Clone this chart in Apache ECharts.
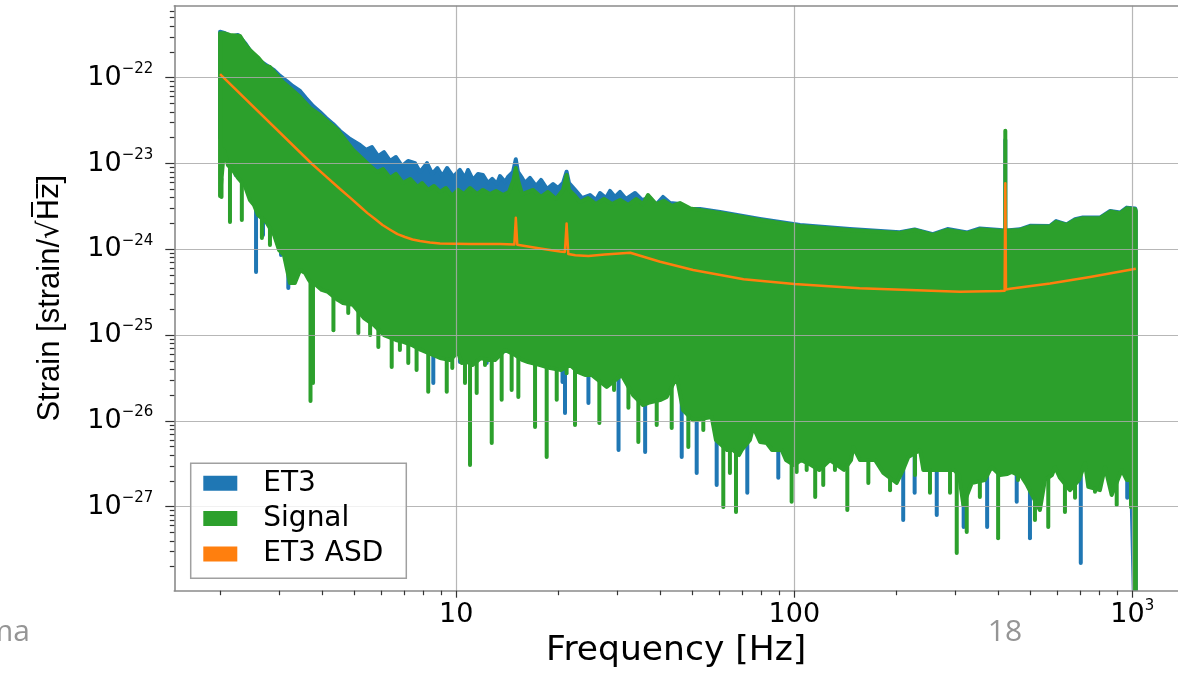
<!DOCTYPE html>
<html>
<head>
<meta charset="utf-8">
<title>ET3 strain spectrum</title>
<script src="https://cdn.jsdelivr.net/npm/echarts@6.0.0/dist/echarts.min.js"></script>
<style>
  html, body { margin: 0; padding: 0; background: #ffffff; }
  #chart { width: 1178px; height: 677px; }
</style>
</head>
<body>
<div id="chart"></div>
<script>
// ---- data: [frequency Hz, strain 1/sqrt(Hz)] ----
const SERIES_NAMES = ['ET3', 'Signal', 'ET3 ASD'];
const X_TICKS = [10, 100, 1000];
const Y_TICKS = [1e-27, 1e-26, 1e-25, 1e-24, 1e-23, 1e-22];

// ET3 noise realisation: upper edge and lower edge of the dense trace
const ET3_TOP = [
  [2.0,3.44e-22],[2.07,3.3e-22],[2.16,3.03e-22],[2.26,3.15e-22],[2.37,2.54e-22],[2.45,2.1e-22],[2.6,1.61e-22],
  [2.74,1.4e-22],[2.89,1.22e-22],[3.01,1.05e-22],[3.15,9.15e-23],[3.28,8.0e-23],[3.45,7.0e-23],[3.59,5.8e-23],
  [3.77,4.68e-23],[3.95,3.99e-23],[4.12,3.39e-23],[4.32,2.89e-23],[4.53,2.39e-23],[4.85,1.93e-23],
  [5.19,1.64e-23],[5.41,1.44e-23],[5.63,1.55e-23],[5.87,1.22e-23],[6.11,1.36e-23],[6.37,1.07e-23],[6.63,1.19e-23],
  [6.91,9.35e-24],[7.2,1.07e-23],[7.55,1.01e-23],[7.81,7.97e-24],[8.19,1.01e-23],[8.49,7.56e-24],[8.79,8.86e-24],
  [9.09,7.15e-24],[9.39,8.86e-24],[9.8,6.96e-24],[10.25,8.4e-24],[10.61,6.78e-24],[10.83,8.4e-24],[11.2,6.43e-24],
  [11.59,7.56e-24],[11.98,7.36e-24],[12.41,5.92e-24],[12.77,6.6e-24],[13.19,5.77e-24],[13.47,7.15e-24],[13.94,6.08e-24],
  [14.22,6.96e-24],[14.72,7.97e-24],[15.0,1.12e-23],[15.22,7.97e-24],[15.65,6.78e-24],[15.97,5.92e-24],[16.52,6.78e-24],
  [17.21,5.47e-24],[17.81,6.43e-24],[18.54,5.05e-24],[19.33,5.77e-24],[20.0,5.18e-24],[20.69,5.92e-24],[21.2,8.02e-24],
  [21.55,5.92e-24],[22.45,4.92e-24],[23.55,3.96e-24],[24.87,4.29e-24],[25.9,3.76e-24],[26.62,4.53e-24],[27.73,3.96e-24],
  [28.5,4.79e-24],[29.49,4.07e-24],[30.51,4.66e-24],[31.78,3.86e-24],[33.79,4.53e-24],[35.43,3.76e-24],[37.42,3.96e-24],
  [38.98,3.29e-24],[40.88,4.07e-24],[42.88,3.46e-24],[45.9,3.37e-24],[49.14,2.95e-24],[52.6,2.95e-24],[60.3,2.72e-24],
  [79.15,2.26e-24],[104,1.92e-24],[146,1.72e-24],[205,1.58e-24],[227,1.7e-24],[257,1.5e-24],[284,1.72e-24],
  [325,1.57e-24],[354,1.75e-24],[406,1.68e-24],[417,1.66e-24],[421,1.88e-23],[425,1.66e-24],[465,1.71e-24],
  [498,1.88e-24],[570,1.87e-24],[595,2.13e-24],[639,1.95e-24],[677,2.24e-24],[714,2.35e-24],[802,2.34e-24],
  [860,2.8e-24],[920,2.68e-24],[963,3.06e-24],[1020,2.98e-24],[1024,2.8e-24]
];
const ET3_LOW = [
  [2.0,1.98e-23],[2.03,1.88e-23],[2.14,1.44e-23],[2.225,7.36e-24],[2.276,1.1e-23],[2.42,7.36e-24],[2.503,6.43e-24],
  [2.556,5.44e-25],[2.61,4.92e-24],[2.68,1.47e-24],[2.754,3.76e-24],[2.843,1.6e-24],[2.91,2.51e-24],[3.03,8.6e-25],
  [3.11,1.29e-24],[3.184,3.54e-25],[3.265,7.1e-25],[3.69,6.05e-25],[3.898,5.02e-25],[4.015,3.54e-25],[4.11,4.39e-25],
  [4.47,3.54e-25],[4.63,2.78e-25],[4.75,2.93e-25],[5.19,2.25e-25],[5.95,1.58e-25],[6.81,1.21e-25],[7.81,1.0e-25],
  [8.24,8.77e-26],[8.55,2.77e-26],[8.77,8.3e-26],[9.98,7.66e-26],[10.25,4.86e-26],[10.54,7.07e-26],[11.75,6.7e-26],
  [12.3,4.73e-26],[12.58,6.35e-26],[15.44,6.7e-26],[18.94,5.87e-26],[20.27,5.13e-26],[20.62,2.84e-26],[20.8,5.0e-26],
  [20.97,1.24e-26],[21.4,4.86e-26],[24.04,4.48e-26],[24.6,1.62e-26],[25.2,4.24e-26],[28.9,3.92e-26],[30.2,4.58e-27],
  [30.9,3.7e-26],[35.0,3.43e-26],[36.2,4.34e-27],[37.2,3.16e-26],[44.6,3.43e-26],[46.44,3.8e-27],[47.5,2.0e-26],
  [49.7,1.53e-26],[51.43,2.47e-27],[52.6,1.34e-26],[57.0,1.34e-26],[58.93,1.79e-27],[60.3,8.96e-27],[70.0,7.83e-27],
  [72.6,1.45e-27],[74.5,8.96e-27],[86.5,7.83e-27],[89.67,2.17e-27],[91.9,6.85e-27],[104,5.98e-27],[146,5.98e-27],
  [202.7,5.23e-27],[210,7.0e-28],[215,5.23e-27],[224,5.23e-27],[227,1.45e-27],[233,5.23e-27],[255.5,5.23e-27],
  [263.9,8.0e-28],[271,5.23e-27],[306,5.23e-27],[317,5.8e-28],[323,5.23e-27],[364,5.23e-27],[372,5.8e-28],
  [379,5.23e-27],[442,4.58e-27],[455,1.14e-27],[466,4.58e-27],[488,4.58e-27],[498,4.3e-28],[509,4.58e-27],
  [681,4.58e-27],[704,2.2e-28],[719,4.58e-27],[938,4.58e-27],[966,1.27e-27],[988,4.58e-27],[1024,1e-29]
];

// Signal trace: upper edge and lower edge
const SIGNAL_TOP = [
  [2.0,3.3e-22],[2.05,3.3e-22],[2.14,3.15e-22],[2.29,3.07e-22],[2.37,2.47e-22],[2.45,2.1e-22],[2.6,1.7e-22],
  [2.72,1.37e-22],[2.81,1.33e-22],[3.07,8.9e-23],[3.22,7.6e-23],[3.45,5.95e-23],[3.69,4.44e-23],[3.95,3.68e-23],
  [4.45,2.47e-23],[4.95,1.44e-23],[5.56,9.35e-24],[5.83,7.97e-24],[6.07,8.63e-24],[6.37,6.78e-24],[6.63,7.56e-24],
  [6.95,5.92e-24],[7.3,6.6e-24],[7.68,5.33e-24],[7.92,5.92e-24],[8.25,4.92e-24],[8.59,5.47e-24],[8.95,4.66e-24],
  [9.32,5.18e-24],[9.71,4.18e-24],[10.12,4.92e-24],[10.54,4.4e-24],[10.98,5.18e-24],[11.51,4.4e-24],[11.98,4.92e-24],
  [12.58,4.4e-24],[13.11,4.79e-24],[13.75,4.29e-24],[14.32,4.66e-24],[14.76,6.4e-24],[15.0,8.86e-24],[15.22,6.4e-24],
  [15.65,4.4e-24],[16.87,4.92e-24],[17.81,4.07e-24],[18.67,4.66e-24],[19.72,3.86e-24],[20.69,4.92e-24],[21.2,7.36e-24],
  [21.55,4.92e-24],[22.45,4.18e-24],[23.23,3.56e-24],[24.53,3.96e-24],[25.9,3.37e-24],[27.35,3.86e-24],[28.89,3.37e-24],
  [30.51,3.76e-24],[32.3,3.29e-24],[34.02,3.86e-24],[35.67,3.37e-24],[36.92,4.29e-24],[39.0,3.37e-24],[41.16,3.66e-24],
  [43.47,3.2e-24],[45.9,3.46e-24],[49.14,3.0e-24],[52.6,2.88e-24],[60.3,2.65e-24],[79.15,2.2e-24],[104,1.87e-24],
  [146,1.68e-24],[205,1.55e-24],[227,1.68e-24],[257,1.47e-24],[284,1.68e-24],[325,1.54e-24],[354,1.71e-24],
  [406,1.65e-24],[417,1.64e-24],[421,2.4e-23],[425,1.64e-24],[465,1.68e-24],[498,1.84e-24],[570,1.84e-24],
  [595,2.09e-24],[639,1.92e-24],[677,2.2e-24],[714,2.3e-24],[802,2.3e-24],[860,2.75e-24],[920,2.63e-24],
  [963,3.0e-24],[1020,2.93e-24],[1024,2.77e-24]
];
const SIGNAL_LOW = [
  [2.0,4.18e-24],[2.02,4.07e-24],[2.055,1.44e-23],[2.11,9.6e-24],[2.14,2.08e-24],[2.18,8.4e-24],[2.26,6.78e-24],
  [2.32,2.2e-24],[2.37,5.47e-24],[2.45,3.76e-24],[2.52,3.29e-24],[2.59,2.51e-24],[2.66,1.35e-24],[2.74,2.08e-24],
  [2.81,1.12e-24],[2.89,1.47e-24],[2.99,9.8e-25],[3.09,8.6e-25],[3.22,4.05e-25],[3.33,4.05e-25],[3.45,5.74e-25],
  [3.57,5.3e-25],[3.665,4.39e-25],[3.704,1.7e-26],[3.735,4.0e-25],[3.767,2.77e-26],[3.846,3.84e-25],[4.0,3.36e-25],
  [4.17,3.19e-25],[4.33,1.14e-25],[4.47,2.56e-25],[4.62,2.37e-25],[4.79,1.81e-25],[4.95,2.25e-25],[5.13,1.06e-25],
  [5.33,1.58e-25],[5.56,1.0e-25],[5.71,1.31e-25],[5.88,7.27e-26],[6.11,1.0e-25],[6.44,4.25e-26],[6.63,8.77e-26],
  [6.81,6.7e-26],[7.0,8.3e-26],[7.21,4.73e-26],[7.39,7.66e-26],[7.63,3.92e-26],[7.86,6.7e-26],[8.26,2.18e-26],
  [8.53,5.87e-26],[8.95,5.41e-26],[9.37,2.18e-26],[9.58,5.13e-26],[9.73,4.14e-26],[10.12,6.35e-26],[10.37,4.73e-26],
  [10.61,2.77e-26],[10.79,4.86e-26],[10.98,3.06e-27],[11.17,4.48e-26],[11.49,2.12e-26],[11.83,5.41e-26],[12.16,4.48e-26],
  [12.41,5.13e-26],[12.73,5.53e-27],[13.02,5.13e-26],[13.62,1.76e-26],[13.94,6.7e-26],[14.58,2.29e-26],[14.92,5.87e-26],
  [15.26,1.9e-26],[15.65,5.13e-26],[16.3,4.86e-26],[17.1,8.5e-27],[17.69,4.48e-26],[18.51,3.8e-27],[18.94,4.14e-26],
  [19.82,1.76e-26],[20.41,3.92e-26],[21.2,3.6e-26],[21.7,4.48e-26],[22.45,8.96e-27],[22.96,3.7e-26],[24.04,3.43e-26],
  [25.16,3.43e-26],[26.5,9.45e-27],[27.86,2.49e-26],[29.29,2.29e-26],[30.86,3.43e-26],[32.3,1.42e-26],[33.34,2.0e-26],
  [34.56,5.67e-27],[35.67,1.53e-26],[36.98,1.62e-26],[39.17,8.96e-27],[40.33,1.76e-26],[41.93,1.9e-26],[43.38,8.26e-27],
  [44.88,3.25e-26],[46.85,1.34e-26],[48.58,4.96e-27],[50.15,1.02e-26],[53.8,7.83e-27],[56.96,1.11e-26],[58.65,5.98e-27],
  [61.65,9.9e-28],[63.2,4.58e-27],[64.5,2.47e-27],[65.86,4.58e-27],[67.22,8.67e-28],[68.6,4.0e-27],[69.88,4.58e-27],
  [73.9,5.98e-27],[75.63,8.5e-27],[79.2,5.67e-27],[82.87,5.53e-27],[85.9,4.58e-27],[91.77,4.58e-27],[94.5,3.5e-27],
  [98.2,1.14e-27],[99.8,3.06e-27],[101.6,2.54e-27],[104.7,3.5e-27],[108.8,2.68e-27],[112.1,3.06e-27],[115.3,1.3e-27],
  [118.6,2.68e-27],[121.8,1.79e-27],[127.5,3.5e-27],[131.9,2.68e-27],[136.5,2.9e-27],[140.3,2.68e-27],[143.5,9.15e-28],
  [147.2,3.5e-27],[149.5,4.96e-27],[156.4,3.5e-27],[165.6,1.89e-27],[173.3,3.5e-27],[183.4,2.47e-27],[192,1.56e-27],
  [200.9,1.89e-27],[209.7,2.68e-27],[217.4,3.8e-27],[227.6,2.34e-27],[235.5,4.58e-27],[240.8,2.68e-27],[252,1.45e-27],
  [260.8,2.68e-27],[276,2.68e-27],[288.9,1.45e-27],[296.9,2.68e-27],[302.4,2.89e-28],[307.2,2.34e-27],[316.3,1.05e-27],
  [323.7,5.07e-28],[334.9,1.89e-27],[354,1.3e-27],[366.2,2.05e-27],[383.2,2.9e-27],[400.9,4.3e-28],[406,2.34e-27],
  [427,2.4e-27],[439.8,2.54e-27],[459,2.05e-27],[470.7,2.24e-27],[488,1.79e-27],[515.2,7.0e-28],[533,9.15e-28],
  [551.5,2.05e-27],[564.1,5.8e-28],[578.6,2.34e-27],[590.5,2.9e-27],[610.9,2.17e-27],[632,8.67e-28],[654,1.56e-27],
  [677,1.27e-27],[695.6,2.05e-27],[724.7,3.23e-27],[741,1.7e-27],[775.5,1.49e-27],[802,1.56e-27],[830.4,2.9e-27],
  [869,1.37e-27],[899.2,1.05e-27],[930.3,2.68e-27],[962.5,2.05e-27],[991,9.9e-28],[1010,2.05e-27],[1024,1e-29]
];

// ET3 design amplitude spectral density
const ET3_ASD = [
  [2.0,1.1e-22],[3.73,1.0e-23],[4.09,7.23e-24],[4.53,5.04e-24],[4.85,4.0e-24],[5.19,3.15e-24],[5.46,2.64e-24],
  [5.75,2.25e-24],[6.05,1.92e-24],[6.37,1.69e-24],[6.7,1.5e-24],[7.05,1.39e-24],[7.42,1.3e-24],[7.81,1.25e-24],
  [8.36,1.2e-24],[8.95,1.17e-24],[11.0,1.15e-24],[13.5,1.15e-24],[14.85,1.14e-24],[15.0,2.33e-24],[15.15,1.13e-24],
  [17.7,1.02e-24],[20.27,9.4e-25],[20.95,9.3e-25],[21.2,2.0e-24],[21.45,8.8e-25],[22.5,8.5e-25],[24.6,8.35e-25],
  [27.5,8.7e-25],[32.7,9.13e-25],[40.1,7.17e-25],[50.2,5.74e-25],[70.8,4.47e-25],[100,3.94e-25],[156,3.51e-25],
  [309,3.19e-25],[406,3.26e-25],[419,3.28e-25],[421,5.9e-24],[423,3.4e-25],[435,3.47e-25],[571,4.0e-25],
  [750,4.75e-25],[1024,5.94e-25]
];

// ---- plotting ----
const lg = Math.log10;
const FONT = 'DejaVu Sans';
const BLUE = '#1f77b4', GREEN = '#2ca02c', ORANGE = '#ff7f0e';

// axis extents in decades
const X_MIN = 0.1657, X_MAX = 3.1352;
const Y_MIN = -27.979, Y_MAX = -21.161;

function minorDecades(lo, hi) {
  const out = [];
  for (let n = Math.floor(lo); n <= Math.ceil(hi); n++) {
    for (let k = 2; k <= 9; k++) {
      const e = n + lg(k);
      if (e > lo && e < hi) out.push(e);
    }
  }
  return out;
}

const xMajor = X_TICKS.map(v => Math.round(lg(v)));
const yMajor = Y_TICKS.map(v => Math.round(lg(v)));
const xMinor = minorDecades(X_MIN, X_MAX);
const yMinor = minorDecades(Y_MIN, Y_MAX);

const spine = { color: '#8a8a8a', width: 1.6 };
const tickStyle = { color: '#333333', width: 1.2 };
const gridStyle = { color: 'rgba(170,170,170,0.85)', width: 1.2 };
const richTicks = {
  b: { fontFamily: FONT, fontSize: 27, color: '#000', lineHeight: 32 },
  s: { fontFamily: FONT, fontSize: 15, color: '#000', lineHeight: 23, verticalAlign: 'top' }
};
const TRACE_WIDTH = 4;

// Dense spectrum drawn as a filled outline. Lower-edge points that sit below
// both neighbours hang from the edge as vertical strokes; narrow spectral
// lines on the upper edge (more than half a decade above both neighbours)
// rise from it the same way.
function bandSeries(name, top, low, color) {
  const outline = top.concat(low.slice().reverse());
  const isDip = low.map((p, i) => i > 0 && i < low.length - 1 &&
    p[1] < low[i - 1][1] && p[1] < low[i + 1][1]);
  const isLine = top.map((p, i) => i > 0 && i < top.length - 1 &&
    lg(p[1]) - Math.max(lg(top[i - 1][1]), lg(top[i + 1][1])) > 0.5);
  function strokes(px, flags, out) {
    px.forEach((pt, i) => {
      if (!flags[i]) return;
      const a = px[i - 1], b = px[i + 1];
      const yEdge = a[1] + (b[1] - a[1]) * (pt[0] - a[0]) / (b[0] - a[0]);
      out.push({
        type: 'line',
        shape: { x1: pt[0], y1: yEdge, x2: pt[0], y2: pt[1] },
        style: { stroke: color, lineWidth: TRACE_WIDTH, lineCap: 'round' }
      });
    });
  }
  return {
    type: 'custom',
    name: name,
    coordinateSystem: 'cartesian2d',
    clip: true,
    z: 2,
    itemStyle: { color: color },
    data: outline.map(p => [lg(p[0]), lg(p[1])]),
    renderItem: function (params, api) {
      if (params.dataIndex !== 0) return null;
      const toPx = p => api.coord([lg(p[0]), lg(p[1])]);
      const topPx = top.map(toPx);
      const lowPx = low.map(toPx);
      const upper = topPx.filter((_, i) => !isLine[i]);
      const lower = lowPx.filter((_, i) => !isDip[i]);
      const children = [{
        type: 'polygon',
        shape: { points: upper.concat(lower.slice().reverse()) },
        style: { fill: color, stroke: color, lineWidth: TRACE_WIDTH, lineJoin: 'round' }
      }];
      strokes(topPx, isLine, children);
      strokes(lowPx, isDip, children);
      return { type: 'group', children: children };
    }
  };
}

const chart = echarts.init(document.getElementById('chart'), null, { renderer: 'canvas' });

chart.setOption({
  animation: false,
  backgroundColor: '#ffffff',
  grid: { left: 174.3, right: 0, top: 5.7, bottom: 86.3 },
  xAxis: [
    {
      type: 'value', position: 'bottom', min: X_MIN, max: X_MAX, z: 5,
      axisLine: { show: true, onZero: false, lineStyle: spine },
      axisTick: { show: true, customValues: xMajor, length: 7, lineStyle: tickStyle },
      axisLabel: {
        customValues: xMajor, margin: 8, rich: richTicks,
        formatter: v => {
          const n = Math.round(v);
          return n >= 3 ? '{b|10}{s|' + n + '}' : '{b|' + Math.pow(10, n) + '}';
        }
      },
      splitLine: { show: true, lineStyle: gridStyle },
      name: 'Frequency [Hz]', nameLocation: 'middle', nameGap: 43,
      nameTextStyle: { fontFamily: FONT, fontSize: 34.5, color: '#000' }
    },
    {
      type: 'value', position: 'bottom', min: X_MIN, max: X_MAX, z: 5,
      axisLine: { show: false },
      axisTick: { show: true, customValues: xMinor, length: 4.5, lineStyle: tickStyle },
      axisLabel: { show: false },
      splitLine: { show: false }
    },
    {
      type: 'value', position: 'top', min: X_MIN, max: X_MAX, z: 5,
      axisLine: { show: true, onZero: false, lineStyle: spine },
      axisTick: { show: false }, axisLabel: { show: false }, splitLine: { show: false }
    }
  ],
  yAxis: [
    {
      type: 'value', position: 'left', min: Y_MIN, max: Y_MAX, z: 5,
      axisLine: { show: true, onZero: false, lineStyle: spine },
      axisTick: { show: true, customValues: yMajor, length: 9, lineStyle: tickStyle },
      axisLabel: {
        customValues: yMajor, margin: 21, rich: richTicks,
        formatter: v => '{b|10}{s|\u2212' + (-Math.round(v)) + '}'
      },
      splitLine: { show: true, lineStyle: gridStyle },
      name: '{t|Strain [strain/}{r|\u221AH\u0305z\u0305}{t|]}',
      nameLocation: 'middle', nameGap: 108, nameRotate: 90,
      nameTextStyle: {
        color: '#000',
        rich: {
          t: { fontFamily: 'Liberation Sans', fontSize: 31, color: '#000' },
          r: { fontFamily: FONT, fontSize: 29, color: '#000' }
        }
      }
    },
    {
      type: 'value', position: 'left', min: Y_MIN, max: Y_MAX, z: 5,
      axisLine: { show: false },
      axisTick: { show: true, customValues: yMinor, length: 4.5, lineStyle: tickStyle },
      axisLabel: { show: false },
      splitLine: { show: false }
    }
  ],
  legend: {
    data: SERIES_NAMES,
    orient: 'vertical', left: 190.7, top: 463.3,
    icon: 'rect', itemWidth: 34, itemHeight: 15, itemGap: 7.3,
    padding: [6, 23, 10.4, 12.6],
    backgroundColor: 'rgba(255,255,255,0.8)',
    borderColor: '#a0a0a0', borderWidth: 1.5, borderRadius: 0,
    selectedMode: false, z: 10,
    textStyle: { fontFamily: FONT, fontSize: 28, lineHeight: 28, color: '#000', padding: [0, 0, 0, 21] }
  },
  graphic: [
    { type: 'text', z: 10, style: { x: 30, y: 632, text: 'ma', textAlign: 'right', textVerticalAlign: 'middle',
      font: '30px "Open Sans"', fill: '#959595' } },
    { type: 'text', z: 10, style: { x: 1005, y: 632, text: '18', textAlign: 'center', textVerticalAlign: 'middle',
      font: '30px "Open Sans"', fill: '#959595' } }
  ],
  series: [
    bandSeries(SERIES_NAMES[0], ET3_TOP, ET3_LOW, BLUE),
    bandSeries(SERIES_NAMES[1], SIGNAL_TOP, SIGNAL_LOW, GREEN),
    {
      type: 'line', name: SERIES_NAMES[2], z: 3,
      data: ET3_ASD.map(p => [lg(p[0]), lg(p[1])]),
      showSymbol: false, symbol: 'none',
      itemStyle: { color: ORANGE },
      lineStyle: { color: ORANGE, width: 2.5, join: 'round' }
    }
  ]
});
</script>
</body>
</html>
